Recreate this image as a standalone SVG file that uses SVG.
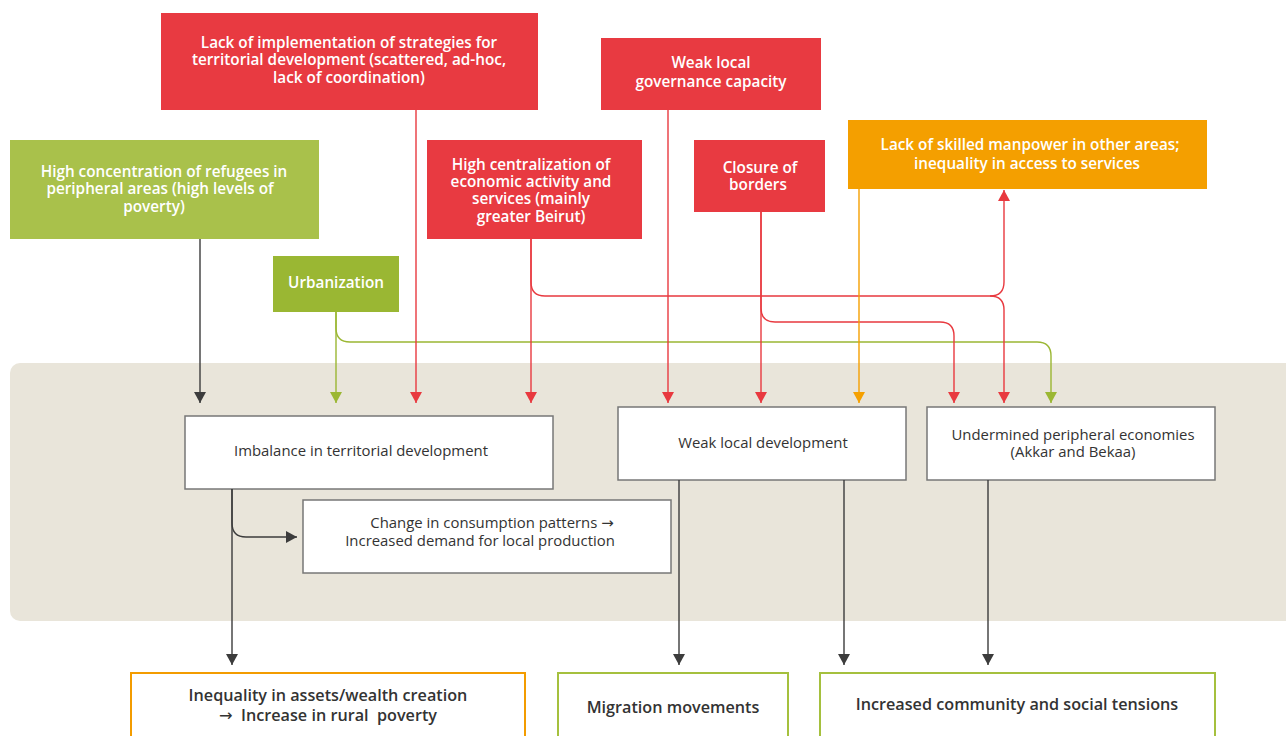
<svg xmlns="http://www.w3.org/2000/svg" width="1286" height="736" viewBox="0 0 1286 736">
  <defs>
    <style>
      .hd { font-family: "Open Sans", "Liberation Sans", sans-serif; font-size: 15.3px; font-weight: 600; fill: #ffffff; text-anchor: middle; }
      .md { font-family: "Open Sans", "Liberation Sans", sans-serif; font-size: 14.9px; font-weight: 400; fill: #333333; text-anchor: middle; }
      .bt { font-family: "Open Sans", "Liberation Sans", sans-serif; font-size: 16.2px; font-weight: 600; fill: #333333; text-anchor: middle; }
      .ar { font-family: "DejaVu Sans", sans-serif; font-weight: 400; }
      .red { fill: #e83a41; }
      .mid { fill: #ffffff; stroke: #777777; stroke-width: 1.5; }
      .ln { fill: none; stroke-width: 1.4; }
      .lr { stroke: #e8393f; }
      .lg { stroke: #9bb733; }
      .lo { stroke: #f5a000; }
      .lk { stroke: #3c3c3c; }
    </style>
    <!-- arrowheads drawn along +x, turned by orient="auto" -->
    <marker id="aR" viewBox="0 0 11 12" refX="11" refY="6" markerWidth="11" markerHeight="12" markerUnits="userSpaceOnUse" orient="auto">
      <path d="M0,0 L11,6 L0,12 Z" fill="#e8393f"/>
    </marker>
    <marker id="aG" viewBox="0 0 11 12" refX="11" refY="6" markerWidth="11" markerHeight="12" markerUnits="userSpaceOnUse" orient="auto">
      <path d="M0,0 L11,6 L0,12 Z" fill="#9bb733"/>
    </marker>
    <marker id="aO" viewBox="0 0 11 12" refX="11" refY="6" markerWidth="11" markerHeight="12" markerUnits="userSpaceOnUse" orient="auto">
      <path d="M0,0 L11,6 L0,12 Z" fill="#f5a000"/>
    </marker>
    <marker id="aK" viewBox="0 0 11 12" refX="11" refY="6" markerWidth="11" markerHeight="12" markerUnits="userSpaceOnUse" orient="auto">
      <path d="M0,0 L11,6 L0,12 Z" fill="#3c3c3c"/>
    </marker>
  </defs>

  <rect width="1286" height="736" fill="#ffffff"/>

  <!-- shaded band holding the intermediate effects -->
  <rect id="band" x="10" y="363" width="1290" height="258" rx="10" fill="#e9e5da"/>

  <!-- causes -->
  <g id="n-implementation">
    <rect class="red" x="161" y="13" width="377" height="97"/>
    <text class="hd" x="349" y="48">Lack of implementation of strategies for</text>
    <text class="hd" x="349" y="65">territorial development (scattered, ad-hoc,</text>
    <text class="hd" x="349" y="83">lack of coordination)</text>
  </g>
  <g id="n-governance">
    <rect class="red" x="601" y="38" width="220" height="72"/>
    <text class="hd" x="711" y="68">Weak local</text>
    <text class="hd" x="711" y="87">governance capacity</text>
  </g>
  <g id="n-skills">
    <rect x="848" y="120" width="359" height="69" fill="#f49f00"/>
    <text class="hd" x="1030" y="150">Lack of skilled manpower in other areas;</text>
    <text class="hd" x="1027" y="169">inequality in access to services</text>
  </g>
  <g id="n-refugees">
    <rect x="10" y="140" width="309" height="99" fill="#a9c14b"/>
    <text class="hd" x="164" y="177">High concentration of refugees in</text>
    <text class="hd" x="160" y="194">peripheral areas (high levels of</text>
    <text class="hd" x="154" y="212">poverty)</text>
  </g>
  <g id="n-centralization">
    <rect class="red" x="427" y="140" width="215" height="99"/>
    <text class="hd" x="531" y="170">High centralization of</text>
    <text class="hd" x="531" y="187">economic activity and</text>
    <text class="hd" x="531" y="204">services (mainly</text>
    <text class="hd" x="531" y="222">greater Beirut)</text>
  </g>
  <g id="n-borders">
    <rect class="red" x="694" y="140" width="131" height="72"/>
    <text class="hd" x="760" y="173">Closure of</text>
    <text class="hd" x="758" y="190">borders</text>
  </g>
  <g id="n-urbanization">
    <rect x="273" y="256" width="126" height="56" fill="#9ab733"/>
    <text class="hd" x="336" y="288">Urbanization</text>
  </g>

  <!-- intermediate effects -->
  <g id="n-imbalance">
    <rect class="mid" x="185" y="416" width="368" height="73"/>
    <text class="md" x="361" y="456">Imbalance in territorial development</text>
  </g>
  <g id="n-consumption">
    <rect class="mid" x="303" y="500" width="368" height="73"/>
    <text class="md" x="492" y="528">Change in consumption patterns <tspan class="ar">→</tspan></text>
    <text class="md" x="480" y="546">Increased demand for local production</text>
  </g>
  <g id="n-weakdev">
    <rect class="mid" x="618" y="407" width="288" height="73"/>
    <text class="md" x="763" y="448">Weak local development</text>
  </g>
  <g id="n-peripheral">
    <rect class="mid" x="927" y="407" width="288" height="73"/>
    <text class="md" x="1073" y="440">Undermined peripheral economies</text>
    <text class="md" x="1073" y="457">(Akkar and Bekaa)</text>
  </g>

  <!-- outcomes -->
  <g id="n-inequality">
    <rect x="131" y="673" width="394" height="80" fill="#ffffff" stroke="#f39c00" stroke-width="2"/>
    <text class="bt" x="328" y="701">Inequality in assets/wealth creation</text>
    <text class="bt" x="328" y="721" xml:space="preserve"><tspan class="ar">→</tspan>  Increase in rural  poverty</text>
  </g>
  <g id="n-migration">
    <rect x="558" y="673" width="230" height="80" fill="#ffffff" stroke="#a5c03e" stroke-width="2"/>
    <text class="bt" x="673" y="713">Migration movements</text>
  </g>
  <g id="n-tensions">
    <rect x="820" y="673" width="395" height="80" fill="#ffffff" stroke="#a5c03e" stroke-width="2"/>
    <text class="bt" x="1017" y="710">Increased community and social tensions</text>
  </g>

  <!-- connectors -->
  <g id="connectors">
    <path class="ln lk" d="M200,239 V403" marker-end="url(#aK)"/>
    <path class="ln lg" d="M336,312 V403" marker-end="url(#aG)"/>
    <path class="ln lg" d="M336,312 V328 Q336,342 350,342 H1037 Q1051,342 1051,356 V403" marker-end="url(#aG)"/>
    <path class="ln lr" d="M416,110 V403" marker-end="url(#aR)"/>
    <path class="ln lr" d="M531,239 V403" marker-end="url(#aR)"/>
    <path class="ln lr" d="M531,239 V282 Q531,296 545,296 H990 Q1004,296 1004,282 V190" marker-end="url(#aR)"/>
    <path class="ln lr" d="M990,296 Q1004,296 1004,310 V403" marker-end="url(#aR)"/>
    <path class="ln lr" d="M668,110 V403" marker-end="url(#aR)"/>
    <path class="ln lr" d="M761,212 V403" marker-end="url(#aR)"/>
    <path class="ln lr" d="M761,212 V308 Q761,322 775,322 H940 Q954,322 954,336 V403" marker-end="url(#aR)"/>
    <path class="ln lo" d="M859,189 V403" marker-end="url(#aO)"/>
    <path class="ln lk" d="M232,489 V665" marker-end="url(#aK)"/>
    <path class="ln lk" d="M232,489 V523 Q232,537 246,537 H297" marker-end="url(#aK)"/>
    <path class="ln lk" d="M679,480 V665" marker-end="url(#aK)"/>
    <path class="ln lk" d="M844,480 V665" marker-end="url(#aK)"/>
    <path class="ln lk" d="M988,480 V665" marker-end="url(#aK)"/>
  </g>
</svg>
